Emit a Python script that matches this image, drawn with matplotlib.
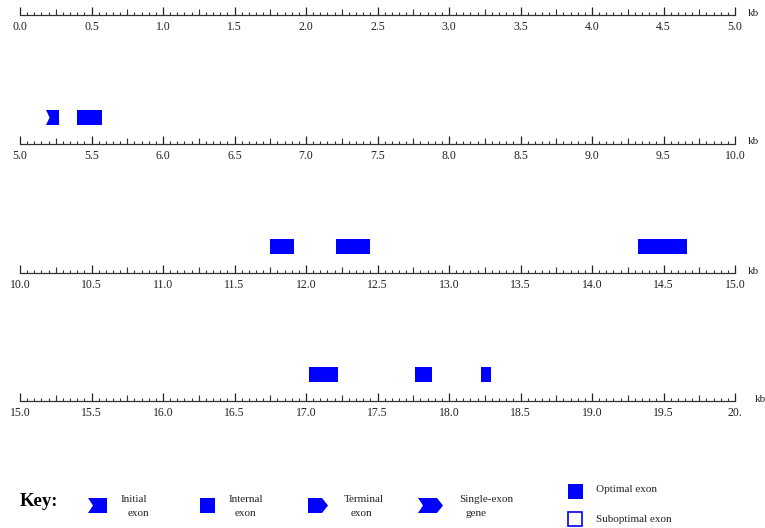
import matplotlib
matplotlib.use('Agg')
import matplotlib.pyplot as plt
from matplotlib.patches import Polygon, Rectangle
from matplotlib.ticker import MultipleLocator

plt.rcParams['font.family'] = ['Liberation Serif', 'DejaVu Serif']

# ---------------- data ----------------
row_starts = [0.0, 5.0, 10.0, 15.0]
row_ends = [5.0, 10.0, 15.0, 20.0]
row_tick_labels = [
    ['0.0', '0.5', '1.0', '1.5', '2.0', '2.5', '3.0', '3.5', '4.0', '4.5', '5.0'],
    ['5.0', '5.5', '6.0', '6.5', '7.0', '7.5', '8.0', '8.5', '9.0', '9.5', '10.0'],
    ['10.0', '10.5', '11.0', '11.5', '12.0', '12.5', '13.0', '13.5', '14.0', '14.5', '15.0'],
    ['15.0', '15.5', '16.0', '16.5', '17.0', '17.5', '18.0', '18.5', '19.0', '19.5', '20.'],
]
exon_starts = [5.182, 5.396, 11.748, 12.210, 14.322, 17.021, 17.762, 18.224]
exon_ends = [5.273, 5.573, 11.916, 12.448, 14.664, 17.224, 17.881, 18.294]
exon_types = ['initial', 'internal', 'internal', 'internal', 'internal',
              'internal', 'internal', 'internal']

key_labels = ['Initial', 'Internal', 'Terminal', 'Single-exon']
key_labels2 = ['exon', 'exon', 'exon', 'gene']
key_types = ['initial', 'internal', 'terminal', 'single']

BLUE = '#0000ff'
W, H = 765, 528
fig = plt.figure(figsize=(W / 100, H / 100), dpi=100)

line_y = [15, 144, 273, 401]
kb_x = [748, 748, 748, 755]


def exon_poly(x0, x1, y0, y1, kind, notch, point):
    ym = (y0 + y1) / 2
    if kind == 'initial':
        pts = [(x0, y0), (x1, y0), (x1, y1), (x0, y1), (x0 + notch, ym)]
    elif kind == 'terminal':
        pts = [(x0, y0), (x1 - point, y0), (x1, ym), (x1 - point, y1), (x0, y1)]
    elif kind == 'single':
        pts = [(x0, y0), (x1 - point, y0), (x1, ym), (x1 - point, y1), (x0, y1), (x0 + notch, ym)]
    else:
        pts = [(x0, y0), (x1, y0), (x1, y1), (x0, y1)]
    return pts


for i in range(4):
    yb = 1 - line_y[i] / H
    ax = fig.add_axes([20 / W, yb, 715 / W, 40 / H])
    ax.set_xlim(row_starts[i], row_ends[i])
    ax.set_ylim(0, 40)
    ax.patch.set_alpha(0)
    for s in ['top', 'left', 'right']:
        ax.spines[s].set_visible(False)
    ax.spines['bottom'].set_color('#333333')
    ax.spines['bottom'].set_linewidth(0.9)
    ax.spines['bottom'].set_clip_on(False)
    ticks = [row_starts[i] + 0.5 * k for k in range(len(row_tick_labels[i]))]
    ax.set_xticks(ticks)
    ax.set_xticklabels(row_tick_labels[i])
    ax.xaxis.set_minor_locator(MultipleLocator(0.05))
    ax.tick_params(axis='x', which='major', direction='in', length=6, width=0.9,
                   color='#222222', labelsize=8.5, pad=4.0, labelcolor='#222222')
    ax.tick_params(axis='x', which='minor', direction='in', length=2.2, width=0.8,
                   color='#333333')
    ax.set_yticks([])
    sec = ax.secondary_xaxis(0)
    sec.set_xticks([row_starts[i] + 0.25 + 0.5 * k for k in range(10)])
    sec.set_xticklabels([])
    sec.tick_params(axis='x', direction='in', length=4, width=0.8, color='#333333')
    sec.spines['bottom'].set_visible(False)
    ax.text(kb_x[i] / W, 1 - (line_y[i] - 2) / H, 'kb', transform=fig.transFigure,
            fontsize=8, ha='left', va='center', color='#222222')
    # exons
    span = row_ends[i] - row_starts[i]
    notch = 0.025 * span / 5
    for s, e, t in zip(exon_starts, exon_ends, exon_types):
        if row_starts[i] <= s < row_ends[i]:
            ax.add_patch(Polygon(exon_poly(s, e, 19, 34, t, notch, 0.03),
                                 closed=True, facecolor=BLUE, edgecolor='none'))

# ---------------- key ----------------
kax = fig.add_axes([0, 0, 1, 1])
kax.set_xlim(0, W)
kax.set_ylim(H, 0)
kax.axis('off')
kax.patch.set_alpha(0)

kax.text(20, 502, 'Key:', fontsize=13.5, fontweight='bold', ha='left', va='center')
icon_x = [(88, 107), (200, 215), (308, 328), (418, 443)]
text_x = [121, 229, 344, 459]
text2_dx = [7, 6, 7, 7]
for (x0, x1), tx, dx, k, l1, l2 in zip(icon_x, text_x, text2_dx, key_types, key_labels, key_labels2):
    kax.add_patch(Polygon(exon_poly(x0, x1, 498, 513, k, 5, 6), closed=True,
                          facecolor=BLUE, edgecolor='none'))
    kax.text(tx, 500, l1, fontsize=8, ha='left', va='center', color='#222222')
    kax.text(tx + dx, 513, l2, fontsize=8, ha='left', va='center', color='#222222')

kax.add_patch(Rectangle((568, 484), 15, 15, facecolor=BLUE, edgecolor='none'))
kax.add_patch(Rectangle((568, 512), 14, 14, facecolor='white', edgecolor=BLUE, linewidth=1.2))
kax.text(596, 490, 'Optimal exon', fontsize=8, ha='left', va='center', color='#222222')
kax.text(596, 519, 'Suboptimal exon', fontsize=8, ha='left', va='center', color='#222222')

fig.savefig('out.png', dpi=100)
